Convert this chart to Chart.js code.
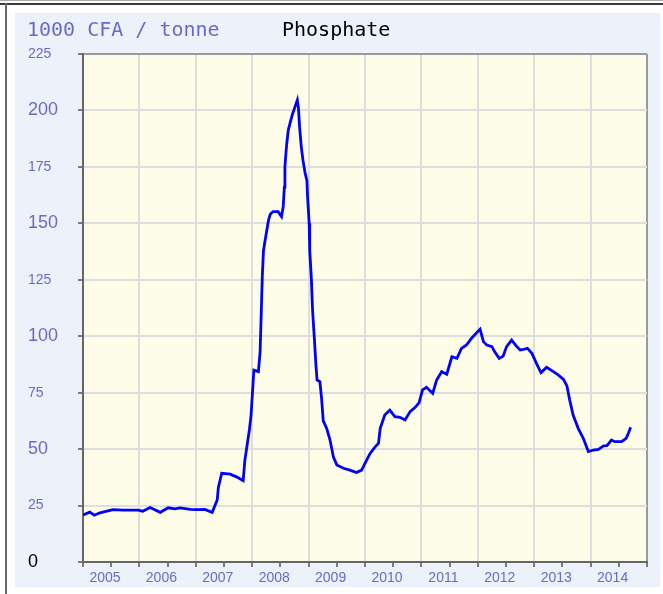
<!DOCTYPE html>
<html>
<head>
<meta charset="utf-8">
<script src="https://cdn.jsdelivr.net/npm/chart.js@4.4.1/dist/chart.umd.min.js"></script>
<style>
  html, body { margin: 0; padding: 0; background: #ffffff; }
  #wrap { width: 663px; height: 594px; }
</style>
</head>
<body>
<div id="wrap"><canvas id="c" width="663" height="594"></canvas></div>
<script>
// ---- data ----
const chartTitle = 'Phosphate';
const unitLabel = '1000 CFA / tonne';
const yearLabels = ['2005','2006','2007','2008','2009','2010','2011','2012','2013','2014'];
const yTickValues = [0,25,50,75,100,125,150,175,200,225];

const years = [2005.00,2005.12,2005.20,2005.30,2005.53,2005.71,2005.98,
  2006.06,2006.19,2006.37,2006.51,2006.63,2006.72,2006.90,
  2007.02,2007.16,2007.29,2007.38,2007.40,2007.46,2007.61,2007.73,2007.84,
  2007.87,2007.91,2007.95,2007.98,
  2008.00,2008.03,2008.11,2008.14,2008.16,2008.18,2008.20,2008.23,2008.26,2008.29,
  2008.32,2008.37,2008.46,2008.52,2008.55,2008.57,2008.58,2008.61,2008.64,2008.67,
  2008.71,2008.76,2008.80,2008.82,2008.84,2008.87,2008.90,2008.94,2008.97,2008.98,
  2009.01,2009.02,2009.05,2009.07,2009.10,2009.13,2009.15,2009.20,2009.23,2009.26,
  2009.32,2009.38,2009.44,2009.50,2009.62,2009.73,2009.85,2009.94,
  2010.00,2010.09,2010.18,2010.24,2010.27,2010.35,2010.44,2010.53,2010.62,2010.71,
  2010.80,2010.89,2010.96,
  2011.02,2011.09,2011.20,2011.27,2011.36,2011.45,2011.54,2011.63,2011.71,2011.80,
  2011.89,2011.98,
  2012.04,2012.10,2012.16,2012.25,2012.30,2012.38,2012.45,2012.51,2012.60,2012.68,
  2012.75,2012.81,2012.88,2012.96,
  2013.04,2013.12,2013.22,2013.34,2013.43,2013.52,2013.58,2013.63,2013.69,2013.78,
  2013.87,2013.96,
  2014.05,2014.14,2014.23,2014.29,2014.37,2014.43,2014.55,2014.63,2014.67,2014.71];

const prices = [20.8,22.1,20.7,21.8,23.2,23.0,23.0,
  22.5,24.1,22.0,24.0,23.5,24.0,23.3,
  23.2,23.3,22.0,27.5,33,39.3,38.9,37.6,36.0,
  45,51.8,58.5,65,
  73.2,85,84.3,93,110,127,138,142.6,147,151.5,
  154,155.2,155.2,153,157.4,166,175,184.7,191.3,194.3,
  198,201.7,204.6,201,192.8,184,178,172,169,162.5,
  150,138,125,111.6,99.8,87.2,80.6,79.9,72.5,62.5,
  59.2,54,46.5,43,41.5,40.7,39.6,40.7,
  43.7,48.1,51,52.6,59.2,65.1,67.3,64.4,64.1,62.9,
  66.6,68.5,70.6,
  76.2,77.4,74.7,80.6,84.3,83.2,90.9,90.2,94.6,96.1,
  99.1,101.6,
  103.1,97.6,96.1,95.4,93.1,90.2,91.2,95.4,98.3,95.7,
  93.9,94.2,94.6,92.4,
  88,83.9,86.2,84.3,82.8,80.9,78,71.7,65.1,59.2,
  54.8,48.9,
  49.6,49.9,51.4,51.5,54,53.3,53.3,54.8,57,59.7];

// ---- chart ----
const firstYear = Number(yearLabels[0]);
const lastYear = firstYear + yearLabels.length;
const xTickValues = [];
for (let k = 0; k <= yearLabels.length * 2; k++) xTickValues.push(firstYear + k / 2);

const points = years.map((x, i) => ({ x: x, y: prices[i] }));

const labelBlue = '#6a6acb';

const framePlugin = {
  id: 'frame',
  beforeDraw(chart) {
    const ctx = chart.ctx;
    const W = chart.width, H = chart.height;
    const a = chart.chartArea;
    ctx.save();
    ctx.fillStyle = '#ffffff';
    ctx.fillRect(0, 0, W, H);
    // outer frame lines
    ctx.fillStyle = '#a8a8a8';
    ctx.fillRect(0, 0, W, 1);
    ctx.fillStyle = '#3a3a3a';
    ctx.fillRect(0, 3, W, 2);
    ctx.fillStyle = '#6a6a6a';
    ctx.fillRect(5, 3, 2, H - 3);
    // panel
    ctx.fillStyle = '#edf1fa';
    ctx.fillRect(15, 13, 645, 574);
    // plot background
    ctx.fillStyle = '#fefde7';
    ctx.fillRect(a.left, a.top, a.right - a.left, a.bottom - a.top);
    // texts
    ctx.textBaseline = 'middle';
    ctx.textAlign = 'left';
    ctx.font = '20px "DejaVu Sans Mono", monospace';
    ctx.fillStyle = labelBlue;
    ctx.fillText(unitLabel, 27, 31);
    ctx.fillStyle = '#000000';
    ctx.fillText(chartTitle, 282, 31);
    ctx.restore();
  }
};

new Chart(document.getElementById('c'), {
  type: 'line',
  data: {
    datasets: [{
      data: points,
      borderColor: '#0000ff',
      borderWidth: 2.8,
      pointRadius: 0,
      tension: 0,
      fill: false
    }]
  },
  options: {
    responsive: false,
    animation: false,
    devicePixelRatio: 1,
    layout: { padding: { left: 28, top: 54, right: 16, bottom: 2 } },
    plugins: { legend: { display: false }, tooltip: { enabled: false }, title: { display: false } },
    scales: {
      x: {
        type: 'linear',
        min: firstYear,
        max: lastYear,
        afterBuildTicks(scale) { scale.ticks = xTickValues.map(v => ({ value: v })); },
        afterFit(scale) { scale.height = 30; },
        border: { color: '#666666', width: 2 },
        grid: {
          color(ctx) {
            const v = ctx.tick ? ctx.tick.value : 0;
            if (v === lastYear) return '#9a9a9a';
            return Number.isInteger(v) ? '#dedede' : 'rgba(0,0,0,0)';
          },
          lineWidth: 2,
          tickColor: '#555555',
          tickWidth: 1.5,
          tickLength: 5
        },
        ticks: {
          autoSkip: false,
          maxRotation: 0,
          minRotation: 0,
          padding: 3,
          labelOffset: 22,
          color: labelBlue,
          font: { family: '"Liberation Sans", Arial, sans-serif', size: 14 },
          callback(value) {
            const i = value - firstYear;
            return (Number.isInteger(i) && i < yearLabels.length) ? yearLabels[i] : '';
          }
        }
      },
      y: {
        min: yTickValues[0],
        max: yTickValues[yTickValues.length - 1],
        afterBuildTicks(scale) { scale.ticks = yTickValues.map(v => ({ value: v })); },
        afterFit(scale) { scale.width = 55; },
        border: { color: '#666666', width: 2 },
        grid: {
          color(ctx) {
            const v = ctx.tick ? ctx.tick.value : 0;
            return v === yTickValues[yTickValues.length - 1] ? '#9a9a9a' : '#dedede';
          },
          lineWidth: 2,
          tickColor: '#555555',
          tickWidth: 1.5,
          tickLength: 5
        },
        ticks: {
          crossAlign: 'far',
          color(ctx) { return ctx.index === 0 ? '#000000' : labelBlue; },
          font(ctx) {
            return { family: '"Liberation Sans", Arial, sans-serif', size: ctx.index % 2 === 0 ? 18 : 14 };
          },
          callback(value) { return String(value); }
        }
      }
    }
  },
  plugins: [framePlugin]
});
</script>
</body>
</html>
